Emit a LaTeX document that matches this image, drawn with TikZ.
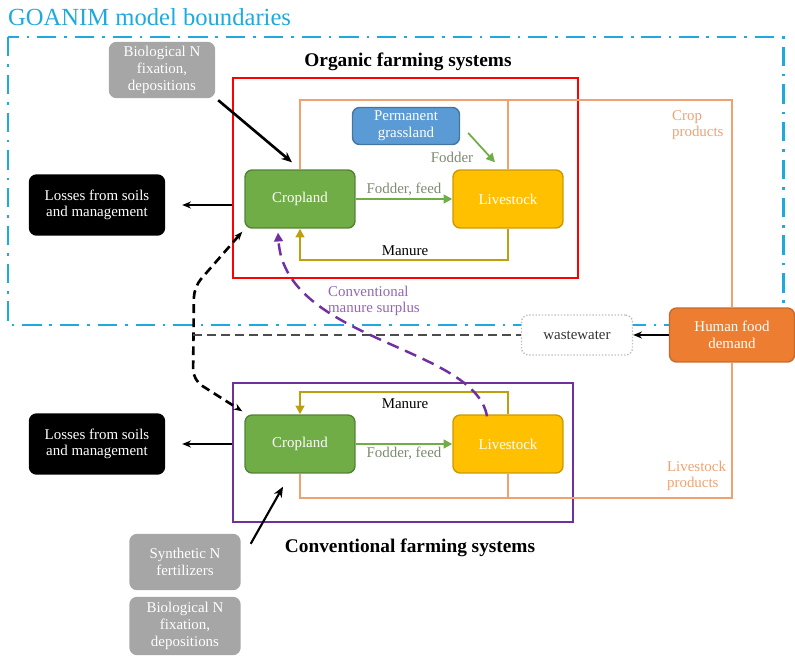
\documentclass[tikz,border=0pt]{standalone}
\usepackage{fontspec}
\setmainfont{Liberation Serif}
\usetikzlibrary{arrows.meta,calc}

\definecolor{boundcyan}{HTML}{1FA9DD}
\definecolor{cropgreen}{HTML}{70AD47}
\definecolor{livegold}{HTML}{FFC000}
\definecolor{grassblue}{HTML}{5B9BD5}
\definecolor{foodorange}{HTML}{ED7D31}
\definecolor{flowtan}{HTML}{EFA171}
\definecolor{manurecol}{HTML}{BF9F10}
\definecolor{convpurple}{HTML}{7030A0}
\definecolor{nboxgray}{HTML}{A6A6A6}
\definecolor{feedtext}{HTML}{7D8A70}

\tikzset{
  box/.style={rounded corners=4pt, minimum width=2.2cm, minimum height=1.16cm,
    align=center, inner sep=1pt, text=white, line width=0.8pt,
    font=\fontsize{8.5}{9.5}\selectfont},
  cropbox/.style={box, fill=cropgreen, draw=cropgreen!75!black},
  livebox/.style={box, fill=livegold, draw=livegold!80!black},
  lossbox/.style={box, fill=black, draw=black, minimum width=2.7cm, minimum height=1.2cm},
  nbox/.style={box, fill=nboxgray, draw=nboxgray, minimum width=2.2cm, minimum height=1.1cm},
  sysframe/.style={line width=1.5pt},
  systitle/.style={font=\fontsize{11}{13}\selectfont\bfseries},
  prodline/.style={draw=flowtan, line width=1.1pt},
  manure/.style={draw=manurecol, line width=1.2pt, -{Triangle[length=5pt,width=5pt]}},
  feed/.style={draw=cropgreen, line width=1.3pt, -{Triangle[length=5pt,width=5pt]}},
  input/.style={line width=1.5pt, -{Stealth[length=6pt,width=5pt]}},
  loss/.style={line width=0.8pt, -{Stealth[length=5pt,width=4pt]}},
  lbl/.style={font=\fontsize{8.5}{9.5}\selectfont, inner sep=1pt},
}

\begin{document}
\begin{tikzpicture}[x=0.02cm, y=-0.02cm]
  \useasboundingbox (0,0) rectangle (795,659);

  % model boundary
  \node[anchor=west, text=boundcyan, font=\fontsize{14}{16}\selectfont] (goanim) at (2,17) {GOANIM model boundaries};
  \draw[boundcyan, line width=1.7pt, dash pattern=on 11pt off 4.5pt on 1.5pt off 4.5pt]
    (8,37) rectangle (783,325);

  % system frames
  \draw[sysframe, red] (233,78) rectangle (578,278);
  \draw[sysframe, convpurple] (233,383) rectangle (573,522);
  \node[systitle] (orgtitle) at (408,62) {Organic farming systems};
  \node[systitle] (convtitle) at (410,548) {Conventional farming systems};

  % nodes
  \node[box, fill=grassblue, draw=grassblue!75!black, minimum width=2.14cm, minimum height=0.74cm] (grass) at (406,126) {Permanent\\grassland};
  \node[cropbox] (cropO) at (300,199) {Cropland};
  \node[livebox] (liveO) at (508,199) {Livestock};
  \node[cropbox] (cropC) at (300,444) {Cropland};
  \node[livebox] (liveC) at (508,444) {Livestock};
  \node[lossbox] (lossO) at (97,205) {Losses from soils\\and management};
  \node[lossbox] (lossC) at (97,444) {Losses from soils\\and management};
  \node[nbox, minimum width=2.1cm] (bioTop) at (162,70) {Biological N\\fixation,\\depositions};
  \node[nbox] (synN) at (185,562) {Synthetic N\\fertilizers};
  \node[nbox, minimum height=1.14cm] (bioBot) at (185,626) {Biological N\\fixation,\\depositions};
  \node[box, fill=white, draw=black!25, densely dotted, text=black!80, minimum width=2.22cm, minimum height=0.8cm] (waste) at (577,335) {wastewater};
  \node[box, fill=foodorange, draw=foodorange!85!black, minimum width=2.5cm, minimum height=1.08cm] (food) at (732,335) {Human food\\demand};

  % crop and livestock products
  \coordinate (cpTop) at (0,100);
  \coordinate (lpBot) at (0,498);
  \draw[prodline] (cropO.north) -- (cropO.north |- cpTop) -| (food.north);
  \draw[prodline] (liveO.north) -- (liveO.north |- cpTop);
  \draw[prodline] (cropC.south) -- (cropC.south |- lpBot) -| (food.south);
  \draw[prodline] (liveC.south) -- (liveC.south |- lpBot);
  \node[lbl, anchor=west, align=left, text=flowtan] (cpLabel) at (670,125) {Crop\\products};
  \node[lbl, anchor=west, align=left, text=flowtan] (lpLabel) at (665,476) {Livestock\\products};

  % manure loops
  \coordinate (manO) at (0,260);
  \coordinate (manC) at (0,392);
  \draw[manure] (liveO.south) -- (liveO.south |- manO) -| (cropO.south);
  \draw[manure] (liveC.north) -- (liveC.north |- manC) -| (cropC.north);
  \node[lbl] (manOlabel) at (405,251) {Manure};
  \node[lbl] (manClabel) at (405,404) {Manure};

  % fodder and feed
  \draw[feed] (cropO) -- node[lbl, above, text=feedtext] (feedO) {Fodder, feed} (liveO);
  \draw[feed] (cropC) -- node[lbl, below, text=feedtext] (feedC) {Fodder, feed} (liveC);
  \draw[feed, line width=1pt] ($(grass.east)+(8,7)$) -- ([xshift=-0.26cm, yshift=0.14cm]liveO.north);
  \node[lbl, text=feedtext] (fodder) at (452,157) {Fodder};

  % N inputs
  \draw[input] ([xshift=0.06cm, yshift=-0.04cm]bioTop.south east) -- ([xshift=-0.16cm, yshift=0.14cm]cropO.north);
  \draw[input, line width=1.2pt] ([xshift=0.2cm, yshift=-0.2cm]synN.north east) -- ([xshift=-0.34cm, yshift=-0.26cm]cropC.south);

  % losses
  \draw[loss, shorten <=0.24cm, shorten >=0.34cm] (lossO.east -| cropO.west) -- (lossO.east);
  \draw[loss, shorten <=0.24cm, shorten >=0.34cm] (lossC.east -| cropC.west) -- (lossC.east);

  % manure exchange between systems
  \draw[line width=1.5pt, dash pattern=on 5pt off 3pt, rounded corners=6pt, {Stealth[length=5pt]}-{Stealth[length=5pt]}]
    ([xshift=-0.04cm, yshift=-0.06cm]cropO.south west) -- (194,287) -- (193,380) -- ([xshift=-0.04cm, yshift=0.06cm]cropC.north west);
  \draw[convpurple, line width=1.4pt, dash pattern=on 7pt off 4pt, -{Triangle[length=5pt,width=5pt]}]
    ([xshift=-0.42cm, yshift=-0.04cm]liveC.north) .. controls +(-12,-70) and +(7,108) .. ([xshift=-0.44cm, yshift=-0.08cm]cropO.south);
  \node[lbl, anchor=west, align=left, text=convpurple!75] (surplus) at (326,301) {Conventional\\manure surplus};

  % wastewater
  \coordinate (wwStart) at (193,0);
  \draw[black!70, line width=1.5pt, dash pattern=on 5pt off 3pt] (waste.west -| wwStart) -- (waste.west);
  \draw[line width=1.3pt, -{Stealth[length=5pt,width=4pt]}] (food.west) -- (waste.east);
\end{tikzpicture}
\end{document}
